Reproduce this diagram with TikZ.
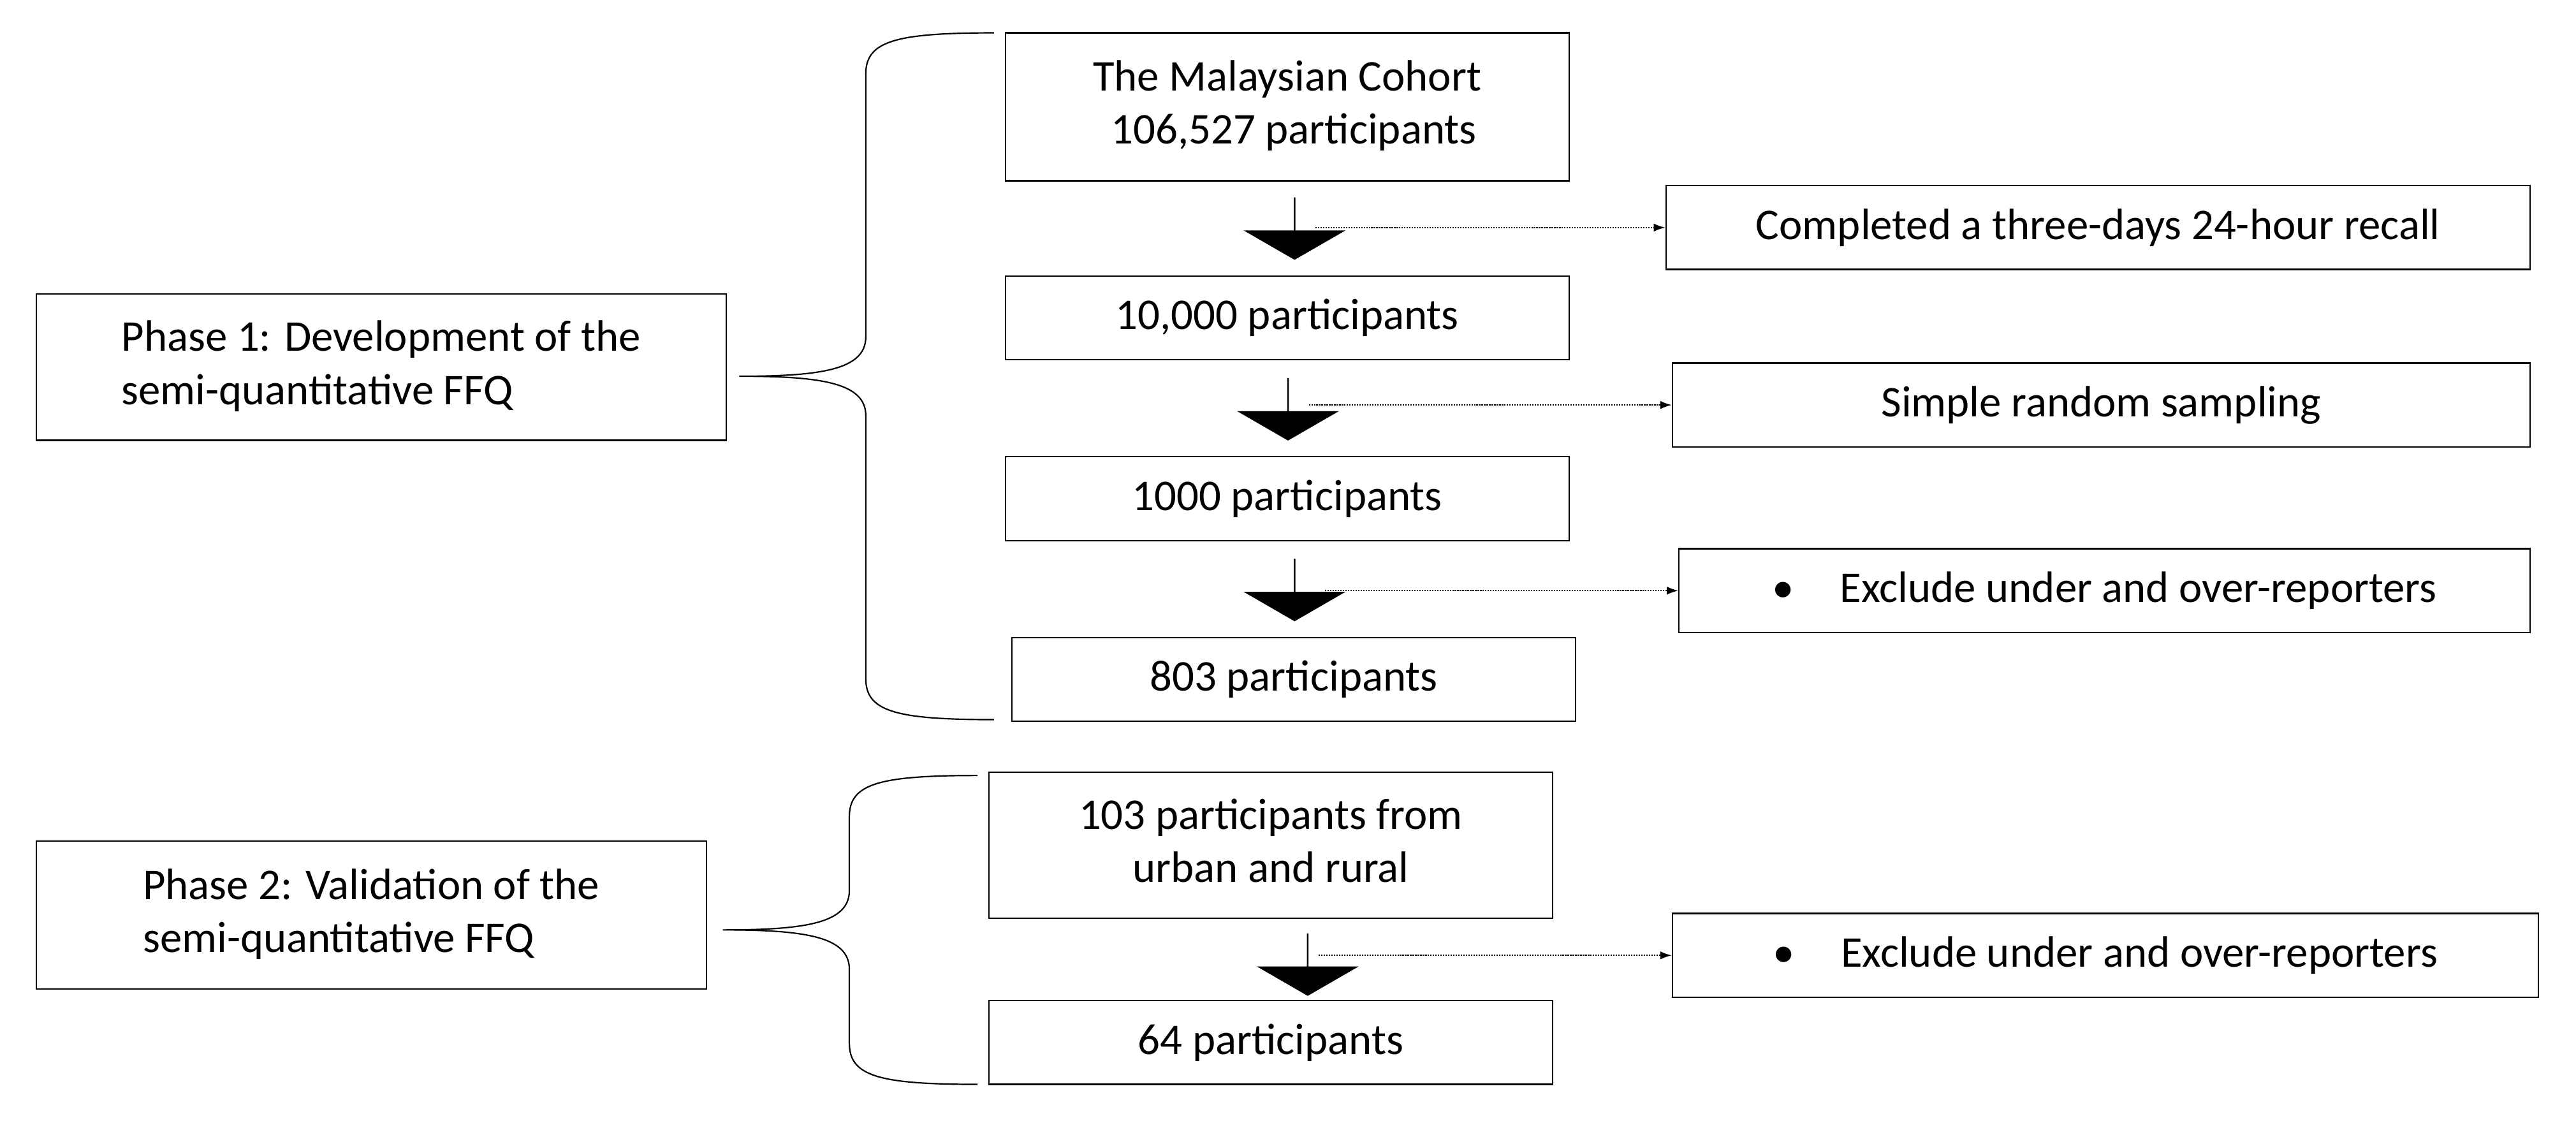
\documentclass[tikz,border=0pt]{standalone}
\usepackage{fontspec}
\setmainfont{Carlito}
\usetikzlibrary{shapes.arrows,arrows.meta}
\begin{document}
\begin{tikzpicture}[x=0.05cm,y=-0.05cm,
  box/.style={draw,line width=1.2pt,inner sep=0pt,font=\fontsize{38}{46}\selectfont},
  blk/.style={single arrow,fill=black,draw=none,shape border rotate=270,minimum height=1.9cm,minimum width=3.1cm,single arrow head extend=0.45cm,single arrow tip angle=120,inner sep=0pt},
  dot/.style={densely dotted,line width=1.2pt,-{Latex[length=0.35cm,width=0.25cm]}},
  brace/.style={line width=1.2pt}]
\useasboundingbox (0,0) rectangle (1568,682);
\def\bx#1#2#3#4#5#6{\node[box,minimum width={(#4-#2)*0.05cm},minimum height={(#5-#3)*0.05cm}] (#1) at ({(#2+#4)/2},{(#3+#5)/2}) {#6};}
\bx{coh}{612}{20}{955}{110}{\begin{tabular}{@{}l@{}}The Malaysian Cohort\\\hspace{0.55cm}106,527 participants\end{tabular}}
\bx{rec}{1014}{113}{1540}{164}{Completed a three-days 24-hour recall}
\bx{p10k}{612}{168}{955}{219}{10,000 participants}
\bx{srs}{1018}{221}{1540}{272}{Simple random sampling}
\bx{p1k}{612}{278}{955}{329}{1000 participants}
\bx{exa}{1022}{334}{1540}{385}{\textbullet\hspace{1.4cm}Exclude under and over-reporters}
\bx{p803}{616}{388}{959}{439}{803 participants}
\bx{ph1}{22}{179}{442}{268}{\begin{tabular}{@{}l@{}}Phase 1: Development of the\\semi-quantitative FFQ\end{tabular}}
\bx{ph2}{22}{512}{430}{602}{\begin{tabular}{@{}l@{}}Phase 2: Validation of the\\semi-quantitative FFQ\end{tabular}}
\bx{p103}{602}{470}{945}{559}{\begin{tabular}{@{}c@{}}103 participants from\\urban and rural\end{tabular}}
\bx{exb}{1018}{556}{1545}{607}{\textbullet\hspace{1.4cm}Exclude under and over-reporters}
\bx{p64}{602}{609}{945}{660}{64 participants}
\node[blk] (a1) at (788,139) {};
\node[blk] (a2) at (784,249) {};
\node[blk] (a3) at (788,359) {};
\node[blk] (a4) at (796,587) {};
\draw[dot] (a1.east |- rec.west) ++(12,0) coordinate (s1) -- (rec.west);
\draw[dot] (a2.east |- srs.west) ++(12,0) coordinate (s2) -- (srs.west);
\draw[dot] (a3.east |- exa.west) ++(18,0) coordinate (s3) -- (exa.west);
\draw[dot] (a4.east |- exb.west) ++(6,0) coordinate (s4) -- (exb.west);
\draw[brace] (605,20) .. controls (545,20) and (527,25) .. (527,45) -- (527,205)
  .. controls (527,225) and (500,229) .. (450,229)
  .. controls (500,229) and (527,233) .. (527,253) -- (527,413)
  .. controls (527,433) and (545,438) .. (605,438);
\draw[brace] (595,472) .. controls (535,472) and (517,477) .. (517,497) -- (517,542)
  .. controls (517,562) and (490,566) .. (440,566)
  .. controls (490,566) and (517,570) .. (517,590) -- (517,635)
  .. controls (517,655) and (535,660) .. (595,660);
\end{tikzpicture}
\end{document}
